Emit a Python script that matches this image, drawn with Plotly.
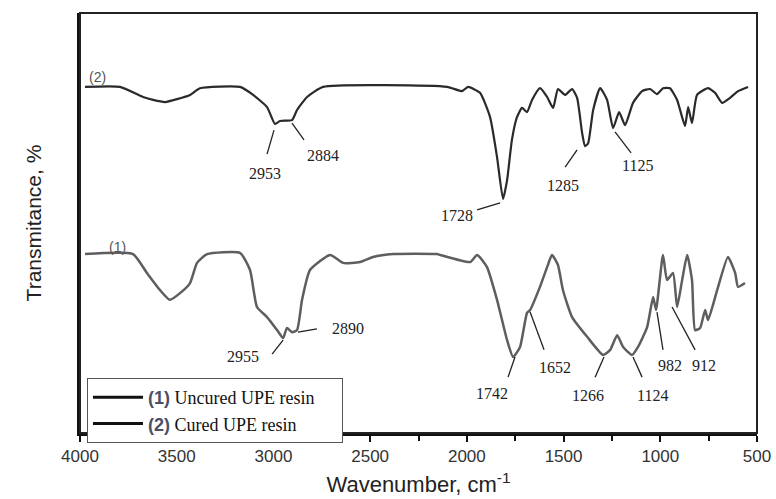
import plotly.graph_objects as go

# Cured UPE resin (2)
wn_cured = [3974, 3793, 3674, 3622, 3560, 3498, 3431, 3380, 3173, 3105, 3033, 2992, 2966, 2904, 2878,
            2826, 2743, 2102, 2025, 1994, 1932, 1880, 1844, 1813, 1792, 1767, 1741, 1715, 1689, 1663,
            1622, 1585, 1554, 1529, 1492, 1456, 1430, 1404, 1389, 1373, 1347, 1311, 1275, 1244, 1213,
            1182, 1141, 1094, 1053, 1017, 986, 950, 913, 872, 856, 836, 810, 753, 717, 680, 639, 598, 546]
t_cured = [82.4, 82.4, 80.0, 79.3, 78.8, 79.5, 80.5, 82.1, 82.4, 80.5, 77.6, 73.6, 74.3, 74.5, 76.9,
           80.0, 82.4, 82.4, 81.4, 82.4, 81.0, 75.2, 65.7, 55.7, 60.2, 69.8, 75.2, 77.4, 76.4, 79.3,
           82.1, 80.0, 77.4, 81.9, 80.5, 81.9, 79.8, 71.4, 68.3, 69.0, 76.9, 82.1, 79.3, 72.6, 76.4,
           73.3, 78.6, 81.4, 81.9, 80.7, 82.1, 82.1, 79.3, 73.1, 77.6, 73.8, 80.5, 82.1, 81.0, 78.6, 79.8, 81.4, 82.4]

# Uncured UPE resin (1)
wn_uncured = [3974, 3726, 3654, 3586, 3535, 3483, 3431, 3395, 3343, 3173, 3121, 3085, 3033, 2981, 2950,
              2930, 2904, 2878, 2852, 2811, 2707, 2640, 2552, 2485, 2381, 2154, 2138, 1983, 1947, 1896,
              1844, 1792, 1761, 1725, 1689, 1673, 1622, 1585, 1560, 1529, 1503, 1456, 1378, 1296, 1259,
              1223, 1192, 1146, 1115, 1068, 1037, 1022, 986, 965, 934, 913, 887, 861, 836, 820, 794, 768,
              753, 706, 650, 613, 598, 562]
t_uncured = [42.6, 42.6, 38.1, 34.0, 31.7, 33.3, 35.7, 40.5, 42.6, 42.9, 38.8, 30.0, 27.6, 24.5, 22.6,
             25.0, 24.0, 24.5, 31.7, 38.8, 42.4, 40.5, 40.7, 41.9, 42.6, 42.6, 42.4, 40.7, 42.4, 39.5,
             31.7, 22.1, 18.1, 20.5, 28.6, 29.3, 34.8, 39.5, 42.4, 40.0, 34.0, 27.6, 22.9, 18.6, 19.8,
             23.3, 20.5, 18.6, 20.5, 25.2, 32.4, 29.3, 42.4, 36.4, 38.1, 30.0, 36.4, 42.4, 36.4, 24.5, 25.0, 29.3,
             26.9, 34.0, 41.9, 38.1, 34.8, 35.7]

x_ticks = [4000, 3500, 3000, 2500, 2000, 1500, 1000, 500]

# Peak labels: text, text position (wn, T), pointer from (wn, T) to (wn, T)
peak_labels = [
    ("2953", 3043, 61.9, 3033, 66.4, 2997, 72.1),
    ("2884", 2744, 66.0, 2842, 69.8, 2904, 73.8),
    ("1728", 2051, 51.9, 1947, 53.1, 1828, 54.8),
    ("1285", 1503, 59.0, 1492, 63.3, 1430, 67.4),
    ("1125", 1120, 63.6, 1151, 66.7, 1234, 71.7),
    ("2955", 3157, 18.1, 3007, 18.8, 2950, 22.1),
    ("2890", 2614, 24.8, 2775, 24.8, 2873, 24.0),
    ("1742", 1870, 9.5, 1787, 13.3, 1751, 18.1),
    ("1652", 1544, 15.7, 1601, 19.8, 1673, 28.8),
    ("1266", 1373, 9.0, 1337, 13.3, 1291, 18.1),
    ("1124", 1042, 9.0, 1094, 13.3, 1141, 18.1),
    ("982", 949, 16.0, 986, 19.8, 1017, 28.8),
    ("912", 774, 16.0, 820, 19.8, 939, 30.0),
]

fig = go.Figure()
fig.add_trace(go.Scatter(x=wn_cured, y=t_cured, mode="lines", showlegend=False,
                         line=dict(color="#2a2a2a", width=2.2, shape="spline", smoothing=0.5)))
fig.add_trace(go.Scatter(x=wn_uncured, y=t_uncured, mode="lines", showlegend=False,
                         line=dict(color="#5e5e5e", width=2.5, shape="spline", smoothing=0.5)))
# legend entries
fig.add_trace(go.Scatter(x=[None], y=[None], mode="lines", line=dict(color="#111", width=3),
                         name='<span style="font-family:Liberation Sans;color:#4d4f63;font-weight:bold">(1)</span> Uncured UPE resin     '))
fig.add_trace(go.Scatter(x=[None], y=[None], mode="lines", line=dict(color="#111", width=3),
                         name='<span style="font-family:Liberation Sans;color:#4d4f63;font-weight:bold">(2)</span> Cured UPE resin'))

for txt, tx, ty, x0, y0, x1, y1 in peak_labels:
    fig.add_annotation(x=tx, y=ty, text=txt, showarrow=False,
                       font=dict(family="Liberation Serif", size=16, color="#222"))
    fig.add_shape(type="line", x0=x0, y0=y0, x1=x1, y1=y1, line=dict(color="#222", width=1.3))

fig.add_annotation(x=3907, y=84.8, text="(2)", showarrow=False,
                   font=dict(family="Liberation Sans", size=14, color="#555"))
fig.add_annotation(x=3804, y=44.3, text="(1)", showarrow=False,
                   font=dict(family="Liberation Sans", size=14, color="#555"))

# frame
fig.add_shape(type="rect", xref="paper", yref="paper", x0=0, y0=0, x1=1, y1=1,
              line=dict(color="#222", width=2), layer="above")

fig.update_layout(
    width=776, height=499,
    margin=dict(l=80, r=19, t=13, b=66),
    plot_bgcolor="white", paper_bgcolor="white",
    showlegend=True,
    legend=dict(x=0.0103, y=0.131, xanchor="left", yanchor="top",
                bordercolor="#555", borderwidth=1, bgcolor="white",
                font=dict(family="Liberation Serif", size=18, color="#111"),
                tracegroupgap=0, itemwidth=50),
    xaxis=dict(range=[4000, 500], tickvals=x_ticks, ticks="outside", ticklen=6, tickwidth=2,
               tickcolor="#111", minor=dict(dtick=250, ticks="outside", ticklen=5, tickwidth=2, tickcolor="#111"),
               showline=True, linewidth=3, linecolor="#111", showgrid=False, zeroline=False,
               automargin=False,
               tickfont=dict(family="Liberation Sans", size=17, color="#333"),
               title=dict(text="Wavenumber, cm<sup>-1</sup>", standoff=12,
                          font=dict(family="Liberation Sans", size=22, color="#222"))),
    yaxis=dict(range=[0, 100], showticklabels=False, ticks="", showline=True, linewidth=3,
               linecolor="#111", showgrid=False, zeroline=False, automargin=False,
               title=dict(text="Transmitance, %", standoff=30,
                          font=dict(family="Liberation Sans", size=21, color="#222"))),
)

fig.write_html("out.html", config={"displayModeBar": False},
               post_script="document.body.style.margin='0';document.body.style.overflow='hidden';")
